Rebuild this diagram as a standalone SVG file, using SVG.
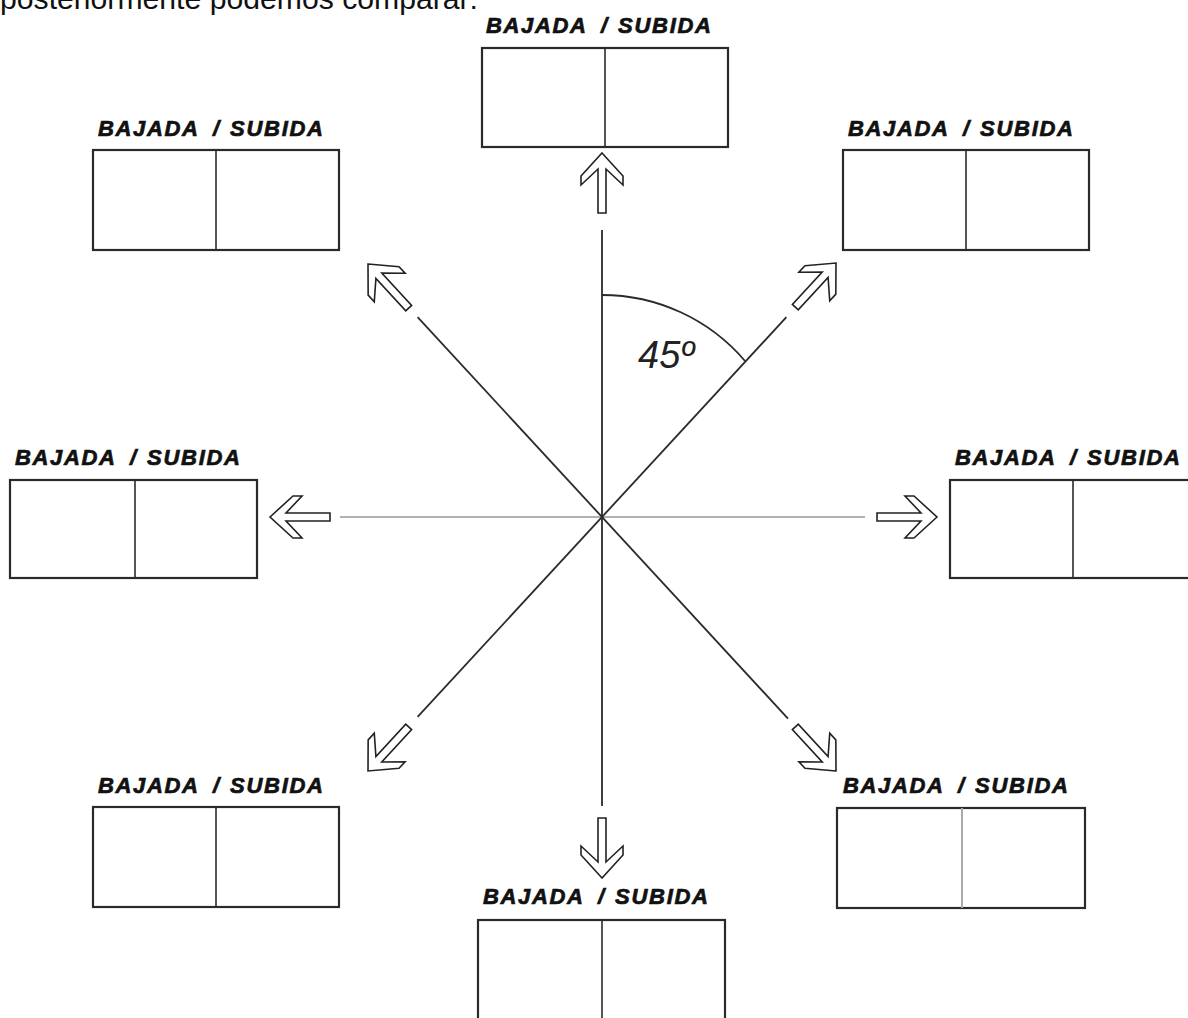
<svg xmlns="http://www.w3.org/2000/svg" xmlns:xlink="http://www.w3.org/1999/xlink" width="1188" height="1018" viewBox="0 0 1188 1018">
<style>
.box{fill:#fff;stroke:#2a2a2a;stroke-width:2.2}
.div{stroke:#2a2a2a;stroke-width:1.6}
.lbl{font-family:"Liberation Sans",Arial,sans-serif;font-weight:bold;font-style:italic;font-size:22px;fill:#111;stroke:#111;stroke-width:0.7}
.arr{fill:#fff;stroke:#222;stroke-width:1.6;stroke-linejoin:miter}
.ln{stroke:#2a2a2a;stroke-width:1.8;fill:none}
</style>
<defs>
<polygon id="arr" class="arr" points="0,0 21,23 21,32 4,16 4,60 -4,60 -4,16 -21,32 -21,23"/>
</defs>
<rect width="1188" height="1018" fill="#fff"/>
<text x="0" y="9" font-family="'Liberation Sans',Arial,sans-serif" font-size="30" fill="#111" textLength="478" lengthAdjust="spacingAndGlyphs">posteriormente podemos comparar:</text>

<g id="connectors">
<line class="ln" x1="602" y1="230" x2="602" y2="806" stroke="#444"/>
<line x1="340" y1="517" x2="865" y2="517" stroke="#b0b0b0" stroke-width="2"/>
<line class="ln" x1="417.6" y1="317.1" x2="788" y2="718.6"/>
<line class="ln" x1="786.4" y1="317.1" x2="417.6" y2="716.9"/>
<path class="ln" d="M602,295 A188,188 0 0 1 745,361" stroke-width="1.6"/>
<use xlink:href="#arr" href="#arr" transform="translate(602,153)"/>
<use xlink:href="#arr" href="#arr" transform="translate(602,878) rotate(180)"/>
<use xlink:href="#arr" href="#arr" transform="translate(270,517) rotate(-90)"/>
<use xlink:href="#arr" href="#arr" transform="translate(937,517) rotate(90)"/>
<use xlink:href="#arr" href="#arr" transform="translate(836,263) rotate(42.7)"/>
<use xlink:href="#arr" href="#arr" transform="translate(368,264) rotate(-42.7)"/>
<use xlink:href="#arr" href="#arr" transform="translate(836,771) rotate(137.3)"/>
<use xlink:href="#arr" href="#arr" transform="translate(368,771) rotate(-137.3)"/>
</g>
<text x="638" y="368" font-family="'Liberation Sans',Arial,sans-serif" font-style="italic" font-size="38" fill="#222">45º</text>

<g id="n-top">
<text class="lbl" y="33"><tspan x="486" textLength="100" lengthAdjust="spacing">BAJADA</tspan><tspan x="601">/</tspan><tspan x="618" textLength="93" lengthAdjust="spacing">SUBIDA</tspan></text>
<rect class="box" x="482" y="48" width="246" height="99"/>
<line class="div" x1="605" y1="48" x2="605" y2="147"/>
</g>
<g id="n-topleft">
<text class="lbl" y="136"><tspan x="98" textLength="100" lengthAdjust="spacing">BAJADA</tspan><tspan x="213">/</tspan><tspan x="230" textLength="93" lengthAdjust="spacing">SUBIDA</tspan></text>
<rect class="box" x="93" y="150" width="246" height="100"/>
<line class="div" x1="216" y1="150" x2="216" y2="250"/>
</g>
<g id="n-topright">
<text class="lbl" y="136"><tspan x="848" textLength="100" lengthAdjust="spacing">BAJADA</tspan><tspan x="963">/</tspan><tspan x="980" textLength="93" lengthAdjust="spacing">SUBIDA</tspan></text>
<rect class="box" x="843" y="150" width="246" height="100"/>
<line class="div" x1="966" y1="150" x2="966" y2="250"/>
</g>
<g id="n-left">
<text class="lbl" y="465"><tspan x="15" textLength="100" lengthAdjust="spacing">BAJADA</tspan><tspan x="130">/</tspan><tspan x="147" textLength="93" lengthAdjust="spacing">SUBIDA</tspan></text>
<rect class="box" x="10" y="480" width="247" height="98"/>
<line class="div" x1="135" y1="480" x2="135" y2="578"/>
</g>
<g id="n-right">
<text class="lbl" y="465"><tspan x="955" textLength="100" lengthAdjust="spacing">BAJADA</tspan><tspan x="1070">/</tspan><tspan x="1087" textLength="93" lengthAdjust="spacing">SUBIDA</tspan></text>
<rect class="box" x="950" y="480" width="246" height="98"/>
<line class="div" x1="1073" y1="480" x2="1073" y2="578"/>
</g>
<g id="n-bottomleft">
<text class="lbl" y="793"><tspan x="98" textLength="100" lengthAdjust="spacing">BAJADA</tspan><tspan x="213">/</tspan><tspan x="230" textLength="93" lengthAdjust="spacing">SUBIDA</tspan></text>
<rect class="box" x="93" y="807" width="246" height="100"/>
<line class="div" x1="216" y1="807" x2="216" y2="907"/>
</g>
<g id="n-bottomright">
<text class="lbl" y="793"><tspan x="843" textLength="100" lengthAdjust="spacing">BAJADA</tspan><tspan x="958">/</tspan><tspan x="975" textLength="93" lengthAdjust="spacing">SUBIDA</tspan></text>
<rect class="box" x="837" y="808" width="248" height="100"/>
<line x1="962" y1="808" x2="962" y2="908" stroke="#aaa" stroke-width="2"/>
</g>
<g id="n-bottom">
<text class="lbl" y="904"><tspan x="483" textLength="100" lengthAdjust="spacing">BAJADA</tspan><tspan x="598">/</tspan><tspan x="615" textLength="93" lengthAdjust="spacing">SUBIDA</tspan></text>
<rect class="box" x="478" y="920" width="247" height="110"/>
<line class="div" x1="602" y1="920" x2="602" y2="1018"/>
</g>
</svg>
